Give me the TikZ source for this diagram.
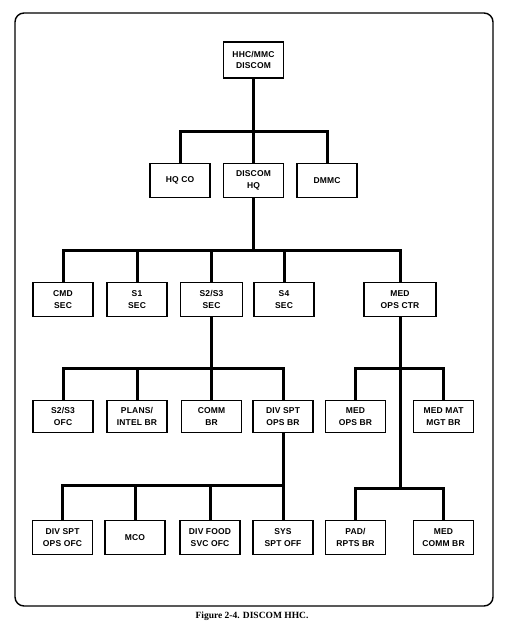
\documentclass[tikz,border=0pt]{standalone}
\usepackage{fontspec}
\usepackage{tikz}
\usetikzlibrary{calc}
\newfontfamily\boxfont[LetterSpace=2]{Liberation Sans}
\newfontfamily\capfont{Liberation Serif}

\begin{document}
\begin{tikzpicture}[
		x=1pt, y=-1pt,
		every node/.style={draw, line width=1.2pt, minimum width=60pt, minimum height=34pt,
				inner sep=1pt, align=center, font={\boxfont\fontsize{8.5}{11.5}\selectfont\bfseries}},
		link/.style={line width=3pt}
	]
	\useasboundingbox (0,0) rectangle (505,633);
	\draw[line width=1.4pt, rounded corners=9pt] (15,13) rectangle (493,606);

	\node[minimum height=36pt] (top) at (253.5,60) {HHC/MMC\\DISCOM};

	\node (hqco) at (180,180.5) {HQ CO};
	\node (dhq) at (253.5,180.5) {DISCOM\\HQ};
	\node (dmmc) at (327,180.5) {DMMC};

	\node (cmd) at (63,299.5) {CMD\\SEC};
	\node (s1sec) at (137,299.5) {S1\\SEC};
	\node[minimum width=62pt] (s23sec) at (211.5,299.5) {S2/S3\\SEC};
	\node (s4sec) at (284,299.5) {S4\\SEC};
	\node[minimum width=72pt] (medctr) at (400,299.5) {MED\\OPS CTR};

	\node[minimum height=32pt] (s23ofc) at (63,416.5) {S2/S3\\OFC};
	\node[minimum height=32pt] (plans) at (137,416.5) {PLANS/\\INTEL BR};
	\node[minimum height=32pt] (comm) at (211.5,416.5) {COMM\\BR};
	\node[minimum height=32pt] (divbr) at (283,416.5) {DIV SPT\\OPS BR};
	\node[minimum height=32pt] (medops) at (355.5,416.5) {MED\\OPS BR};
	\node[minimum height=32pt] (medmat) at (443.5,416.5) {MED MAT\\MGT BR};

	\node (divofc) at (62.5,537.5) {DIV SPT\\OPS OFC};
	\node (mco) at (135,537.5) {MCO};
	\node (food) at (210,537.5) {DIV FOOD\\SVC OFC};
	\node (sysspt) at (283,537.5) {SYS\\SPT OFF};
	\node (pad) at (355.5,537.5) {PAD/\\RPTS BR};
	\node (medcomm) at (443.5,537.5) {MED\\COMM BR};

	\node[draw=none, font={\capfont\fontsize{9.5}{11}\selectfont\bfseries}] (caption) at (252,616) {Figure 2-4. DISCOM HHC.};

	\coordinate (bus2) at (253.5,131);
	\coordinate (bus3) at (253.5,250);
	\coordinate (bus4) at (211.5,368);
	\coordinate (bus4m) at (400,368);
	\coordinate (bus5) at (283,485);
	\coordinate (bus5m) at (400,488);

	\draw[link] (top.south) -- (dhq.north);
	\draw[link] (hqco.north) |- (bus2) -| (dmmc.north);

	\draw[link] (dhq.south) -- (bus3);
	\draw[link] (cmd.north) |- (bus3) -| (medctr.north);
	\draw[link] (s1sec.north) -- (s1sec.north |- bus3);
	\draw[link] (s23sec.north) -- (s23sec.north |- bus3);
	\draw[link] (s4sec.north) -- (s4sec.north |- bus3);

	\draw[link] (s23sec.south) -- (comm.north);
	\draw[link] (s23ofc.north) |- (bus4) -| (divbr.north);
	\draw[link] (plans.north) -- (plans.north |- bus4);

	\draw[link] (medctr.south) -- (bus5m);
	\draw[link] (medops.north) |- (bus4m) -| (medmat.north);

	\draw[link] (divbr.south) -- (sysspt.north);
	\draw[link] (divofc.north) |- (bus5);
	\draw[link] (mco.north) -- (mco.north |- bus5);
	\draw[link] (food.north) -- (food.north |- bus5);

	\draw[link] (pad.north) |- (bus5m) -| (medcomm.north);
\end{tikzpicture}
\end{document}
